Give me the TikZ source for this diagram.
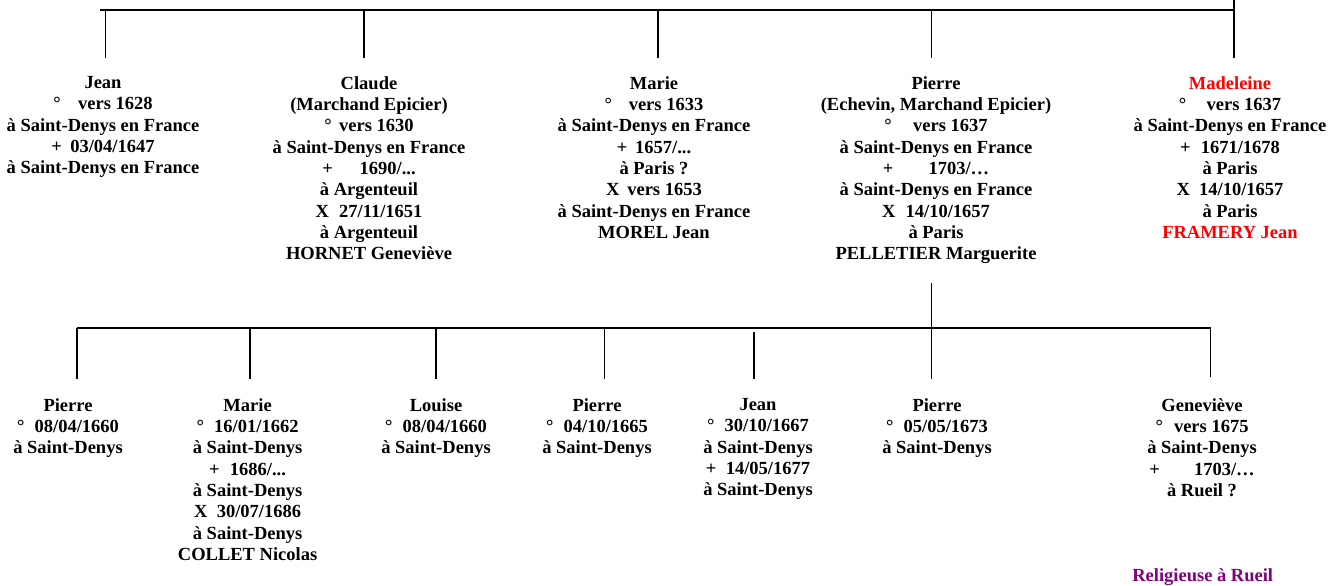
\documentclass[tikz,border=0pt]{standalone}
\usepackage{fontspec}
\setmainfont{Liberation Serif}
\definecolor{namered}{RGB}{255,0,0}
\definecolor{notepurple}{RGB}{128,0,128}
\newcommand{\gap}[1]{\hspace*{#1em}}

\begin{document}
\begin{tikzpicture}[x=0.5pt,y=-0.5pt,
  person/.style={anchor=north,inner sep=0pt,align=center,
    font=\fontsize{9.25}{10.65}\selectfont\bfseries},
  bar/.style={line width=1pt},
  drop/.style={line width=0.75pt}]
\useasboundingbox (0,0) rectangle (1340,585);

\coordinate (up-l) at (100,10);
\coordinate (up-r) at (1234,10);
\coordinate (up-end) at (1234,0);
\coordinate (jean-t) at (105.6,10);
\coordinate (jean-b) at (105.6,58);
\coordinate (claude-t) at (364,10);
\coordinate (claude-b) at (364,58);
\coordinate (marie-t) at (658,10);
\coordinate (marie-b) at (658,58);
\coordinate (pierre-t) at (931.5,10);
\coordinate (pierre-b) at (931.5,58);
\coordinate (madeleine-b) at (1234,58);

\draw[bar] (up-l) -- (up-r);
\draw[drop] (jean-t) -- (jean-b);
\draw[drop] (claude-t) -- (claude-b);
\draw[drop] (marie-t) -- (marie-b);
\draw[drop] (pierre-t) -- (pierre-b);
\draw[drop] (up-end) -- (madeleine-b);

\node[person] (jean) at (103,76) {Jean\\°\gap{0.95}vers 1628\\à Saint-Denys en France\\+\gap{0.45}03/04/1647\\à Saint-Denys en France};
\node[person] (claude) at (369,76) {Claude\\(Marchand Epicier)\\°\gap{0.4}vers 1630\\à Saint-Denys en France\\+\gap{1.45}1690/...\\à Argenteuil\\X\gap{0.55}27/11/1651\\à Argenteuil\\HORNET Geneviève};
\node[person] (marie) at (654,76) {Marie\\°\gap{0.9}vers 1633\\à Saint-Denys en France\\+\gap{0.42}1657/...\\à Paris ?\\X\gap{0.42}vers 1653\\à Saint-Denys en France\\MOREL Jean};
\node[person] (pierre) at (936,76) {Pierre\\(Echevin, Marchand Epicier)\\°\gap{1.15}vers 1637\\à Saint-Denys en France\\+\gap{1.9}1703/…\\à Saint-Denys en France\\X\gap{0.55}14/10/1657\\à Paris\\PELLETIER Marguerite};
\node[person] (madeleine) at (1230,76) {{\color{namered}Madeleine}\\°\gap{1.1}vers 1637\\à Saint-Denys en France\\+\gap{0.55}1671/1678\\à Paris\\X\gap{0.5}14/10/1657\\à Paris\\{\color{namered}FRAMERY Jean}};

\coordinate (fam-t) at (931.5,283);
\coordinate (low-l) at (77,328);
\coordinate (low-r) at (1210.6,328);
\coordinate (pA-b) at (77,379);
\coordinate (mB-t) at (250,328);
\coordinate (mB-b) at (250,379);
\coordinate (lo-t) at (436,328);
\coordinate (lo-b) at (436,379);
\coordinate (pC-t) at (604.7,328);
\coordinate (pC-b) at (604.7,379);
\coordinate (jB-t) at (753.8,332);
\coordinate (jB-b) at (753.8,379);
\coordinate (pD-b) at (931.5,379);
\coordinate (gv-b) at (1210.6,377);

\draw[bar] (low-l) -- (low-r);
\draw[drop] (fam-t) -- (pD-b);
\draw[drop] (low-l) -- (pA-b);
\draw[drop] (mB-t) -- (mB-b);
\draw[drop] (lo-t) -- (lo-b);
\draw[drop] (pC-t) -- (pC-b);
\draw[drop] (jB-t) -- (jB-b);
\draw[drop] (low-r) -- (gv-b);

\node[person] (pierreA) at (68,398) {Pierre\\°\gap{0.55}08/04/1660\\à Saint-Denys};
\node[person] (marieB) at (247.6,398) {Marie\\°\gap{0.55}16/01/1662\\à Saint-Denys\\+\gap{0.55}1686/...\\à Saint-Denys\\X\gap{0.5}30/07/1686\\à Saint-Denys\\COLLET Nicolas};
\node[person] (louise) at (436,398) {Louise\\°\gap{0.55}08/04/1660\\à Saint-Denys};
\node[person] (pierreC) at (597,398) {Pierre\\°\gap{0.55}04/10/1665\\à Saint-Denys};
\node[person] (jeanB) at (758,398) {Jean\\°\gap{0.55}30/10/1667\\à Saint-Denys\\+\gap{0.5}14/05/1677\\à Saint-Denys};
\node[person] (pierreD) at (937,398) {Pierre\\°\gap{0.55}05/05/1673\\à Saint-Denys};
\node[person] (genevieve) at (1202,398) {Geneviève\\°\gap{0.6}vers 1675\\à Saint-Denys\\+\gap{1.85}1703/…\\à Rueil ?};
\node[person,anchor=base,text=notepurple] (note) at (1202.7,581) {Religieuse à Rueil};
\end{tikzpicture}
\end{document}
